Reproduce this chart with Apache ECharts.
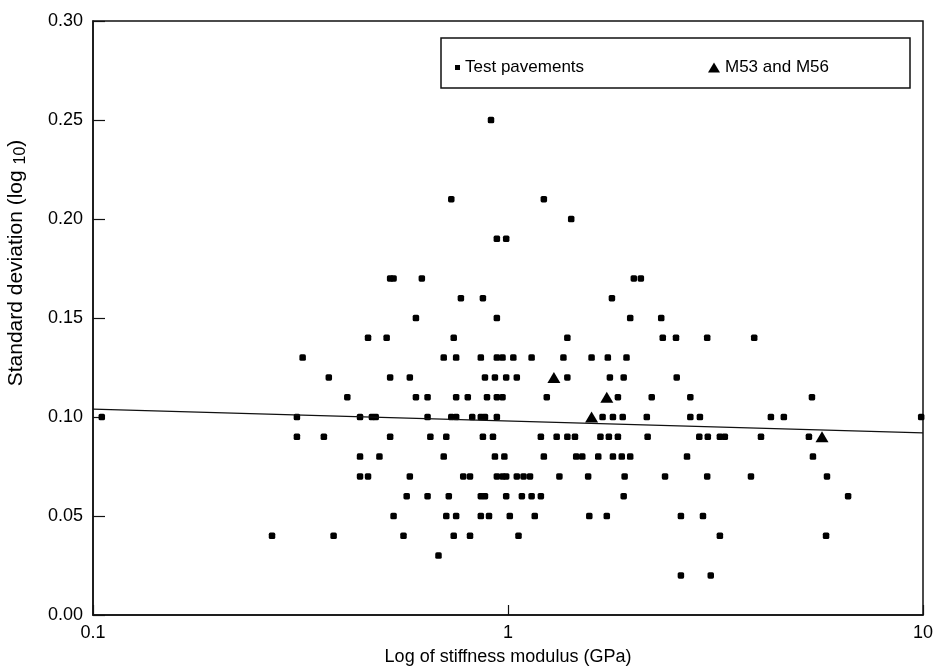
<!DOCTYPE html>
<html>
<head>
<meta charset="utf-8">
<script src="https://cdn.jsdelivr.net/npm/echarts@6/dist/echarts.min.js"></script>
<style>
  html, body { margin: 0; padding: 0; background: #fff; }
  #main { width: 934px; height: 669px; }
</style>
</head>
<body>
<div id="main"></div>
<script>
'use strict'
// standard deviation levels (rows) and the stiffness values (GPa) found on each row
var rowSD = [0.25, 0.21, 0.20, 0.19, 0.17, 0.16, 0.15, 0.14, 0.13, 0.12, 0.11, 0.10, 0.09, 0.08, 0.07, 0.06, 0.05, 0.04, 0.03, 0.02]
var rowModulus = [
    [0.91],
    [0.73, 1.22],
    [1.42],
    [0.94, 0.99],
    [0.52, 0.53, 0.62, 2.01, 2.09],
    [0.77, 0.87, 1.78],
    [0.60, 0.94, 1.97, 2.34],
    [0.46, 0.51, 0.74, 1.39, 2.36, 2.54, 3.02, 3.92],
    [0.32, 0.70, 0.75, 0.86, 0.94, 0.97, 1.03, 1.14, 1.36, 1.59, 1.74, 1.93],
    [0.37, 0.52, 0.58, 0.88, 0.93, 0.99, 1.05, 1.39, 1.76, 1.90, 2.55],
    [0.41, 0.60, 0.64, 0.75, 0.80, 0.89, 0.94, 0.97, 1.24, 1.84, 2.22, 2.75, 5.40],
    [0.105, 0.31, 0.44, 0.47, 0.48, 0.64, 0.73, 0.75, 0.82, 0.86, 0.88, 0.94, 1.69, 1.79, 1.89, 2.16, 2.75, 2.90, 4.30, 4.62, 9.9],
    [0.31, 0.36, 0.52, 0.65, 0.71, 0.87, 0.92, 1.20, 1.31, 1.39, 1.45, 1.67, 1.75, 1.84, 2.17, 2.89, 3.03, 3.24, 3.33, 4.07, 5.31],
    [0.44, 0.49, 0.70, 0.93, 0.98, 1.22, 1.46, 1.51, 1.65, 1.79, 1.88, 1.97, 2.70, 5.43],
    [0.44, 0.46, 0.58, 0.78, 0.81, 0.94, 0.97, 0.99, 1.05, 1.09, 1.13, 1.33, 1.56, 1.91, 2.39, 3.02, 3.85, 5.87],
    [0.57, 0.64, 0.72, 0.86, 0.88, 0.99, 1.08, 1.14, 1.20, 1.90, 6.60],
    [0.53, 0.71, 0.75, 0.86, 0.90, 1.01, 1.16, 1.57, 1.73, 2.61, 2.95],
    [0.27, 0.38, 0.56, 0.74, 0.81, 1.06, 3.24, 5.84],
    [0.68],
    [2.61, 3.08]
]
// M53 and M56
var mModulus = [1.29, 1.73, 1.59, 5.71]
var mSD = [0.12, 0.11, 0.10, 0.09]
// fitted line
var trendModulus = [0.1, 10]
var trendSD = [0.104, 0.092]

var FONT = 'Liberation Sans'

var testData = []
for (var i = 0; i < rowSD.length; i++) {
    for (var j = 0; j < rowModulus[i].length; j++) {
        testData.push([rowModulus[i][j], rowSD[i]])
    }
}
var mData = mModulus.map(function (x, k) { return [x, mSD[k]] })
var trendData = trendModulus.map(function (x, k) { return [x, trendSD[k]] })

var myChart = echarts.init(document.getElementById('main'), null, {renderer: 'canvas'})
var option = {
    backgroundColor: '#fff',
    animation: false,
    grid: {
        left: 93, right: 11, top: 21, bottom: 54,
        outerBoundsMode: 'none', containLabel: false,
        show: true, borderColor: '#111', borderWidth: 1.5, backgroundColor: 'transparent'
    },
    legend: [
        {
            data: [{name: 'Test pavements', icon: 'rect'}],
            left: 450, top: 54, itemWidth: 5, itemHeight: 5, itemGap: 6,
            textStyle: {fontFamily: FONT, fontSize: 17, color: '#000'}
        },
        {
            data: [{name: 'M53 and M56', icon: 'triangle'}],
            left: 703, top: 54, itemWidth: 12, itemHeight: 10, itemGap: 6,
            textStyle: {fontFamily: FONT, fontSize: 17, color: '#000'}
        }
    ],
    graphic: [{
        type: 'rect', z: 10,
        shape: {x: 441, y: 38, width: 469, height: 50},
        style: {fill: 'none', stroke: '#111', lineWidth: 1.5}
    }],
    xAxis: {
        type: 'log', logBase: 10, min: 0.1, max: 10,
        name: 'Log of stiffness modulus (GPa)', nameLocation: 'middle', nameGap: 33,
        nameTextStyle: {fontFamily: FONT, fontSize: 18, color: '#000'},
        axisLine: {lineStyle: {color: '#111', width: 1.5}},
        axisTick: {inside: true, length: 10, lineStyle: {color: '#111', width: 1.2}},
        axisLabel: {
            margin: 9, fontFamily: FONT, fontSize: 18, color: '#000',
            formatter: function (v) { return String(v) }
        },
        splitLine: {show: false},
        minorTick: {show: false}
    },
    yAxis: {
        type: 'value', min: 0, max: 0.3, interval: 0.05,
        name: 'Standard deviation (log {s|10})', nameLocation: 'middle', nameGap: 64, nameRotate: 90,
        nameTextStyle: {
            fontFamily: FONT, fontSize: 21, color: '#000', padding: [0, 0, 0, 110],
            rich: {s: {fontFamily: FONT, fontSize: 16, color: '#000', padding: [9, 0, 0, 0]}}
        },
        axisLine: {lineStyle: {color: '#111', width: 1.5}},
        axisTick: {inside: true, length: 12, lineStyle: {color: '#111', width: 1.2}},
        axisLabel: {
            margin: 10, fontFamily: FONT, fontSize: 18, color: '#000',
            formatter: function (v) { return v.toFixed(2) }
        },
        splitLine: {show: false}
    },
    series: [
        {
            name: 'Test pavements', type: 'scatter', data: testData,
            symbol: 'roundRect', symbolSize: 6.5,
            itemStyle: {color: '#000', opacity: 1}
        },
        {
            name: 'M53 and M56', type: 'scatter', data: mData,
            symbol: 'triangle', symbolSize: [13, 11],
            itemStyle: {color: '#000', opacity: 1}
        },
        {
            name: 'trend', type: 'line', data: trendData,
            symbol: 'none', silent: true,
            lineStyle: {color: '#111', width: 1.3}
        }
    ]
}
myChart.setOption(option)
</script>
</body>
</html>
